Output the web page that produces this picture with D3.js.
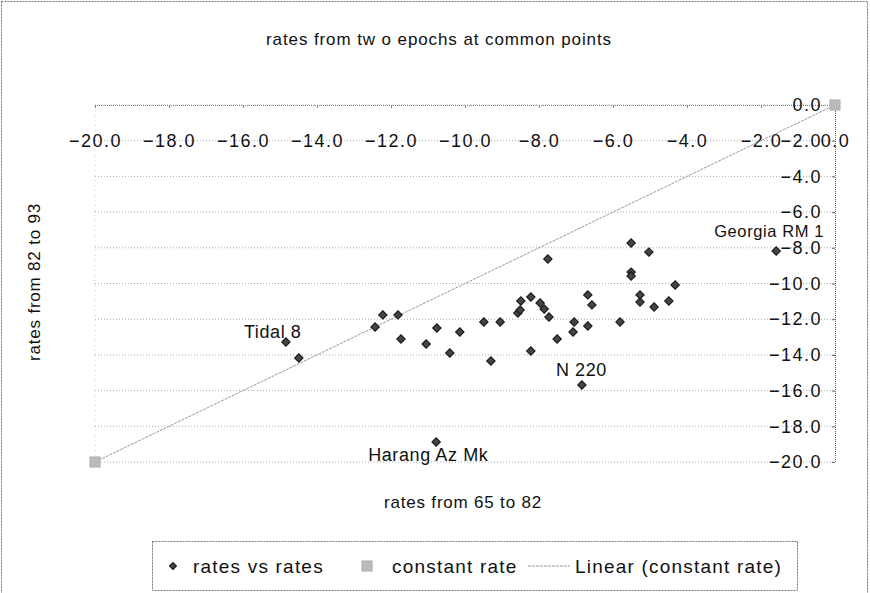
<!DOCTYPE html>
<html>
<head>
<meta charset="utf-8">
<script src="https://cdn.jsdelivr.net/npm/d3@7"></script>
<style>
body { margin: 0; background: #fff; }
text { font-family: "Liberation Sans", Arial, sans-serif; fill: #111; }
</style>
</head>
<body>
<svg id="chart" width="870" height="593"></svg>
<script>
// rates from 65 to 82 (x) vs rates from 82 to 93 (y)
const xRates = [-14.84, -14.49, -12.43, -12.22, -11.81, -11.73, -11.05, -10.76, -10.41, -10.14,
    -10.78, -9.49, -9.05, -9.30, -8.57, -8.51, -8.49, -8.22, -7.97, -7.86,
    -7.73, -7.76, -8.22, -7.51, -7.08, -7.05, -6.68, -6.68, -6.57, -6.84,
    -5.81, -5.51, -5.51, -5.51, -5.27, -5.27, -5.03, -4.89, -4.49, -4.32, -1.59];
const yRates = [-13.28, -14.17, -12.44, -11.76, -11.76, -13.11, -13.39, -12.49, -13.89, -12.72,
    -18.88, -12.16, -12.16, -14.34, -11.65, -11.48, -10.98, -10.76, -11.09, -11.43,
    -11.88, -8.63, -13.78, -13.11, -12.72, -12.16, -12.38, -10.64, -11.20, -15.69,
    -12.16, -7.73, -9.36, -9.58, -10.64, -11.04, -8.24, -11.32, -10.98, -10.08, -8.18];
const pointNames = ['Tidal 8', 'Harang Az Mk', 'N 220', 'Georgia RM 1'];
const pointIndex = [0, 10, 29, 40];

const constX = [-20, 0];
const constY = [-20, 0];
const tickVals = [-20, -18, -16, -14, -12, -10, -8, -6, -4, -2, 0];

const legendNames = ['rates vs rates', 'constant rate', 'Linear (constant rate)'];

const svg = d3.select('#chart');
const x = d3.scaleLinear().domain([-20, 0]).range([95, 835]);
const y = d3.scaleLinear().domain([-20, 0]).range([462, 105]);
const fmt = d3.format('.1f');

// outer chart border
svg.append('rect')
    .attr('x', 1.5).attr('y', 1.5).attr('width', 866).attr('height', 620)
    .attr('fill', 'none').attr('stroke', '#777').attr('stroke-dasharray', '2,1');

svg.append('text')
    .attr('x', 439).attr('y', 45)
    .attr('text-anchor', 'middle')
    .style('font-size', '17px').style('letter-spacing', '0.9px')
    .text('rates from tw o epochs at common points');

// horizontal gridlines
svg.append('g')
    .selectAll('line')
    .data(tickVals)
    .join('line')
        .attr('x1', x(-20)).attr('x2', x(0))
        .attr('y1', d => y(d)).attr('y2', d => y(d))
        .attr('stroke', '#aaa').attr('stroke-dasharray', '1,2');

// left edge of plot area
svg.append('line')
    .attr('x1', x(-20)).attr('x2', x(-20)).attr('y1', y(0)).attr('y2', y(-20))
    .attr('stroke', '#ccc').attr('stroke-dasharray', '1,4');

// x axis crosses at y = 0 (top)
const xAxis = svg.append('g')
    .attr('transform', `translate(0,${y(0)})`)
    .call(d3.axisBottom(x).tickValues(tickVals).tickFormat(fmt).tickSize(3).tickPadding(26))
    .attr('font-family', null);
xAxis.select('.domain').attr('stroke', '#888').attr('stroke-dasharray', '1,1');
xAxis.selectAll('.tick line').attr('stroke', '#888');
xAxis.selectAll('text').style('font-size', '18px').style('letter-spacing', '1.5px').attr('fill', '#111');

// y axis crosses at x = 0 (right)
const yAxis = svg.append('g')
    .attr('transform', `translate(${x(0)},0)`)
    .call(d3.axisLeft(y).tickValues(tickVals).tickFormat(fmt).tickSize(3).tickPadding(10))
    .attr('font-family', null);
yAxis.select('.domain').attr('stroke', '#666').attr('stroke-dasharray', '1,1');
yAxis.selectAll('.tick line').attr('stroke', '#666');
yAxis.selectAll('text').style('font-size', '18px').style('letter-spacing', '1.5px').attr('fill', '#111');

// trendline of constant rate
svg.append('line')
    .attr('x1', x(constX[0])).attr('y1', y(constY[0]))
    .attr('x2', x(constX[1])).attr('y2', y(constY[1]))
    .attr('stroke', '#999').attr('stroke-dasharray', '3,1');

// constant rate markers
svg.append('g')
    .selectAll('rect')
    .data(constX)
    .join('rect')
        .attr('x', (d, i) => x(d) - 5).attr('y', (d, i) => y(constY[i]) - 5)
        .attr('width', 10).attr('height', 10)
        .attr('fill', '#bbb').attr('stroke', '#aaa');

// rates vs rates markers
const diamond = d3.symbol(d3.symbolSquare, 36);
svg.append('g')
    .selectAll('path')
    .data(xRates)
    .join('path')
        .attr('d', diamond)
        .attr('transform', (d, i) => `translate(${x(d)},${y(yRates[i])}) rotate(45)`)
        .attr('fill', '#444').attr('stroke', '#111').attr('stroke-width', 1);

// point labels
const labelOffsets = [[-42, -4], [-68, 19], [-26, -9], [-62, -14.5]];
const labelSizes = [18, 18, 18, 16.5];
svg.append('g')
    .selectAll('text')
    .data(pointIndex)
    .join('text')
        .attr('x', (d, i) => x(xRates[d]) + labelOffsets[i][0])
        .attr('y', (d, i) => y(yRates[d]) + labelOffsets[i][1])
        .style('font-size', (d, i) => labelSizes[i] + 'px').style('letter-spacing', '0.6px')
        .text((d, i) => pointNames[i]);

// axis titles
svg.append('text')
    .attr('x', 463).attr('y', 508)
    .attr('text-anchor', 'middle')
    .style('font-size', '17px').style('letter-spacing', '0.8px')
    .text('rates from 65 to 82');
svg.append('text')
    .attr('transform', 'translate(40,282) rotate(-90)')
    .attr('text-anchor', 'middle')
    .style('font-size', '17px').style('letter-spacing', '0.8px')
    .text('rates from 82 to 93');

// legend
const legend = svg.append('g');
legend.append('rect')
    .attr('x', 152.5).attr('y', 541.5).attr('width', 645).attr('height', 49)
    .attr('fill', '#fff').attr('stroke', '#777').attr('stroke-dasharray', '2,1');
const legendX = [193, 392, 575];
legend.selectAll('text')
    .data(legendNames)
    .join('text')
        .attr('x', (d, i) => legendX[i]).attr('y', 573)
        .style('font-size', '19px').style('letter-spacing', '1.2px')
        .text(d => d);
legend.append('path')
    .attr('d', d3.symbol(d3.symbolSquare, 24))
    .attr('transform', 'translate(173,566) rotate(45)')
    .attr('fill', '#444').attr('stroke', '#111');
legend.append('rect')
    .attr('x', 362).attr('y', 561).attr('width', 10).attr('height', 10)
    .attr('fill', '#bbb').attr('stroke', '#aaa');
legend.append('line')
    .attr('x1', 528).attr('x2', 570).attr('y1', 566).attr('y2', 566)
    .attr('stroke', '#999').attr('stroke-dasharray', '3,1');
</script>
</body>
</html>
